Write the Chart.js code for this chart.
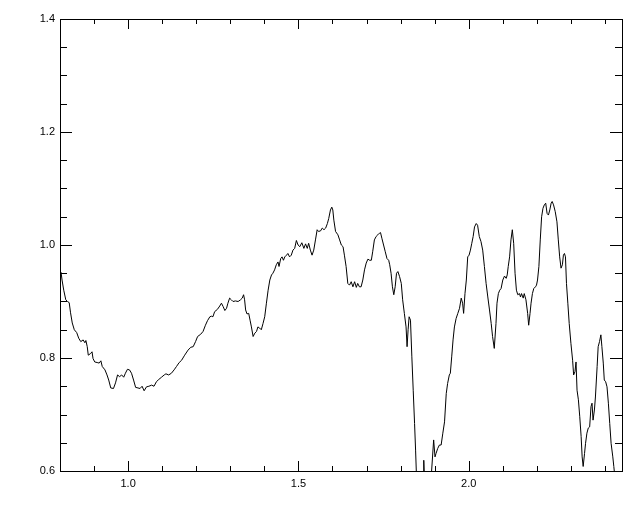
<!DOCTYPE html>
<html>
<head>
<meta charset="utf-8">
<script src="https://cdn.jsdelivr.net/npm/chart.js@4/dist/chart.umd.min.js"></script>
<style>
html,body{margin:0;padding:0;background:#fff;}
#wrap{width:640px;height:512px;}
</style>
</head>
<body>
<div id="wrap"><canvas id="c" width="640" height="512"></canvas></div>
<script>
const wavelength = [
0.803,0.806,0.811,0.817,0.822,0.827,0.831,0.836,0.842,0.849,0.855,0.861,0.868,0.873,0.876,0.880,0.883,0.890,0.894,0.897,0.902,0.909,0.915,0.920,0.924,0.932,0.938,0.943,0.949,0.957,0.963,0.969,0.975,0.981,0.987,0.992,0.998,1.004,1.010,1.016,1.022,1.029,1.035,1.041,1.047,1.054,1.061,1.069,1.076,1.083,1.090,1.098,1.106,1.111,1.119,1.127,1.135,1.142,1.150,
1.157,1.166,1.176,1.184,1.191,1.198,1.204,1.213,1.220,1.227,1.233,1.240,1.245,1.249,1.254,1.262,1.269,1.274,1.279,1.284,1.289,1.293,1.298,1.303,1.308,1.315,1.323,1.330,1.335,1.339,1.342,1.345,1.349,1.354,1.358,1.362,1.367,1.372,1.377,1.381,1.386,1.391,1.396,1.401,1.406,1.411,1.416,1.421,1.425,1.430,1.435,1.440,1.443,1.448,1.452,1.456,1.460,1.465,1.469,1.474,1.479,1.484,1.489,1.494,1.499,1.504,
1.510,1.516,1.521,1.526,1.530,1.535,1.540,1.545,1.550,1.555,1.559,1.565,1.570,1.575,1.580,1.585,1.589,1.594,1.598,1.601,1.604,1.609,1.616,1.621,1.626,1.631,1.635,1.640,1.645,1.650,1.655,1.660,1.665,1.670,1.674,1.679,1.684,1.689,1.694,1.699,1.704,1.709,1.714,1.718,1.723,1.728,1.733,1.738,1.741,1.745,1.750,1.755,1.760,1.765,1.768,1.772,1.776,1.780,1.784,1.788,1.792,1.797,1.802,1.806,1.811,1.816,1.819,1.822,1.825,1.829,1.833,1.837,1.841,1.844,1.847,1.855,1.866,1.868,1.871,1.885,
1.891,1.897,1.901,1.904,1.909,1.914,1.919,1.924,1.929,1.934,1.938,1.943,1.946,1.950,1.954,1.958,1.963,1.968,1.973,1.978,1.982,1.985,1.989,1.993,1.997,2.001,2.005,2.009,2.013,2.017,2.022,2.026,2.031,2.036,2.041,2.046,2.051,2.056,2.061,2.066,2.070,2.075,2.080,2.083,2.087,2.091,2.095,2.100,2.105,2.110,2.113,2.116,2.120,2.124,2.128,2.132,2.136,2.140,2.144,2.149,2.152,2.155,2.160,2.163,2.168,2.173,2.176,2.180,2.183,2.187,2.191,2.196,2.199,2.202,2.206,2.210,2.214,2.218,2.222,2.226,2.230,2.234,2.238,2.242,2.245,2.249,2.254,2.259,2.263,2.267,2.271,2.275,2.278,2.281,2.284,2.287,2.291,2.295,2.300,2.305,2.308,2.312,2.315,2.318,2.322,2.326,2.330,2.333,2.336,2.340,2.343,2.347,2.351,2.355,2.359,2.362,2.365,2.369,2.372,2.377,2.380,2.384,2.388,2.391,2.395,2.398,2.402,2.406,2.410,2.414,2.418,2.423,2.426,2.429
];
const flux = [
0.952,0.938,0.920,0.903,0.900,0.898,0.880,0.862,0.850,0.845,0.835,0.829,0.832,0.827,0.831,0.820,0.805,0.808,0.811,0.799,0.793,0.792,0.791,0.795,0.785,0.779,0.770,0.761,0.747,0.746,0.756,0.770,0.767,0.770,0.766,0.773,0.780,0.779,0.773,0.761,0.748,0.747,0.746,0.750,0.742,0.749,0.750,0.752,0.750,0.758,0.762,0.766,0.770,0.772,0.770,0.773,0.779,0.785,0.792,
0.796,0.805,0.814,0.819,0.820,0.829,0.838,0.842,0.847,0.858,0.866,0.873,0.874,0.873,0.882,0.886,0.892,0.897,0.891,0.884,0.888,0.897,0.906,0.903,0.900,0.901,0.900,0.903,0.906,0.912,0.903,0.885,0.878,0.879,0.867,0.855,0.838,0.844,0.847,0.855,0.853,0.850,0.861,0.873,0.897,0.920,0.938,0.947,0.950,0.956,0.965,0.970,0.962,0.976,0.979,0.973,0.979,0.982,0.985,0.979,0.982,0.991,0.994,1.008,1.000,0.997,
1.004,0.994,1.002,0.994,1.003,0.991,0.982,0.991,1.009,1.027,1.024,1.025,1.030,1.027,1.030,1.038,1.047,1.062,1.067,1.062,1.044,1.024,1.018,1.009,1.000,0.997,0.982,0.962,0.932,0.929,0.935,0.926,0.935,0.925,0.932,0.926,0.926,0.938,0.956,0.968,0.975,0.973,0.973,0.988,1.009,1.015,1.018,1.021,1.022,1.012,1.000,0.988,0.976,0.973,0.965,0.950,0.926,0.912,0.926,0.950,0.953,0.944,0.932,0.903,0.879,0.855,0.820,0.850,0.873,0.867,0.802,0.743,0.684,0.637,0.584,0.560,0.580,0.619,0.570,0.550,
0.600,0.655,0.625,0.631,0.640,0.646,0.646,0.667,0.687,0.737,0.755,0.770,0.773,0.802,0.832,0.855,0.870,0.879,0.888,0.906,0.897,0.879,0.914,0.938,0.979,0.982,0.991,1.003,1.015,1.032,1.038,1.035,1.015,1.006,0.991,0.962,0.932,0.908,0.885,0.861,0.838,0.817,0.861,0.897,0.914,0.920,0.923,0.938,0.945,0.941,0.947,0.962,0.979,1.009,1.027,1.003,0.950,0.920,0.912,0.914,0.908,0.914,0.906,0.914,0.903,0.879,0.858,0.879,0.897,0.914,0.923,0.926,0.929,0.938,0.962,1.009,1.050,1.065,1.071,1.074,1.056,1.053,1.062,1.074,1.077,1.071,1.059,1.041,1.009,0.979,0.959,0.965,0.982,0.985,0.979,0.932,0.897,0.861,0.826,0.796,0.770,0.776,0.793,0.743,0.726,0.696,0.661,0.625,0.608,0.631,0.649,0.667,0.676,0.678,0.714,0.720,0.690,0.708,0.731,0.785,0.820,0.829,0.841,0.820,0.791,0.761,0.758,0.749,0.720,0.684,0.649,0.625,0.608,0.590
];
const xTickLabels = [1.0, 1.5, 2.0];
const xMinorTicks = [0.9,1.1,1.2,1.3,1.4,1.6,1.7,1.8,1.9,2.1,2.2,2.3,2.4];
const yTickLabels = [0.6, 0.8, 1.0, 1.2, 1.4];
const yMinorTicks = [0.65,0.7,0.75,0.85,0.9,0.95,1.05,1.1,1.15,1.25,1.3,1.35];
const xRange = [0.8, 2.45];
const yRange = [0.6, 1.4];

const frame = {
  id: 'frame',
  afterDatasetsDraw(chart) {
    const {ctx, chartArea: a, scales: {x, y}} = chart;
    ctx.save();
    ctx.strokeStyle = '#000';
    ctx.lineWidth = 1;
    ctx.beginPath();
    const tick = (px, len, axis) => {
      const p = Math.round(px) + 0.5;
      if (axis === 'x') {
        ctx.moveTo(p, a.bottom); ctx.lineTo(p, a.bottom - len);
        ctx.moveTo(p, a.top); ctx.lineTo(p, a.top + len);
      } else {
        ctx.moveTo(a.left, p); ctx.lineTo(a.left + len, p);
        ctx.moveTo(a.right, p); ctx.lineTo(a.right - len, p);
      }
    };
    xTickLabels.forEach(v => tick(x.getPixelForValue(v), 10, 'x'));
    xMinorTicks.forEach(v => tick(x.getPixelForValue(v), 5, 'x'));
    yTickLabels.forEach(v => tick(y.getPixelForValue(v), 12, 'y'));
    yMinorTicks.forEach(v => tick(y.getPixelForValue(v), 7, 'y'));
    ctx.stroke();
    ctx.strokeRect(Math.round(a.left) + 0.5, Math.round(a.top) + 0.5,
                   Math.round(a.right - a.left), Math.round(a.bottom - a.top));
    ctx.restore();
  }
};

const font = {family: '"Liberation Sans", Arial, sans-serif', size: 11};

new Chart(document.getElementById('c'), {
  type: 'line',
  data: {
    datasets: [{
      data: wavelength.map((w, i) => ({x: w, y: flux[i]})),
      borderColor: '#000',
      borderWidth: 1,
      pointRadius: 0,
      tension: 0,
      fill: false
    }]
  },
  options: {
    responsive: false,
    animation: false,
    devicePixelRatio: 1,
    layout: {padding: {top: 19, right: 18, left: 0, bottom: 0}},
    plugins: {legend: {display: false}, tooltip: {enabled: false}},
    scales: {
      x: {
        type: 'linear',
        min: xRange[0], max: xRange[1],
        grid: {display: false, drawTicks: false},
        border: {display: false},
        afterBuildTicks: s => { s.ticks = xTickLabels.map(v => ({value: v})); },
        afterFit: s => { s.height = 41; },
        ticks: {
          color: '#000', font, padding: 6, maxRotation: 0,
          callback: v => Number(v).toFixed(1)
        }
      },
      y: {
        type: 'linear',
        min: yRange[0], max: yRange[1],
        grid: {display: false, drawTicks: false},
        border: {display: false},
        afterBuildTicks: s => { s.ticks = yTickLabels.map(v => ({value: v})); },
        afterFit: s => { s.width = 60; },
        ticks: {
          color: '#000', font, padding: 5,
          callback: v => Number(v).toFixed(1)
        }
      }
    }
  },
  plugins: [frame]
});
</script>
</body>
</html>
